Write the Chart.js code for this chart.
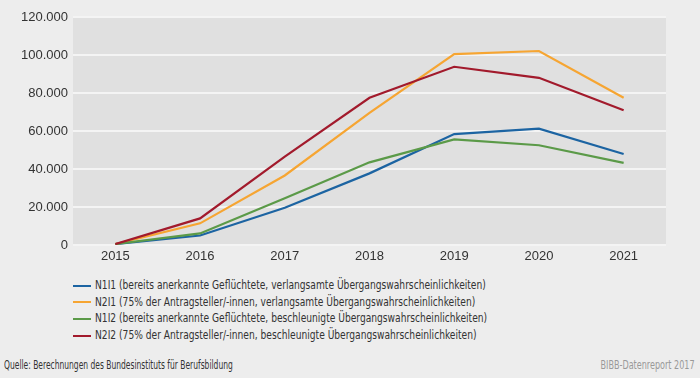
<!DOCTYPE html>
<html>
<head>
<meta charset="utf-8">
<script src="https://cdn.jsdelivr.net/npm/chart.js@4/dist/chart.umd.min.js"></script>
<style>
  html, body { margin: 0; padding: 0; background: #ededed; }
  body { width: 700px; height: 378px; position: relative; overflow: hidden; font-family: "Liberation Sans Narrow", "DejaVu Sans Condensed", sans-serif; color: #333; }
  #wrap { position: absolute; left: 0; top: 0; width: 700px; height: 268px; }
  #legend { position: absolute; left: 73px; top: 277px; }
  .item { height: 16.7px; line-height: 16.7px; font-size: 13px; white-space: nowrap; }
  .item span.sw { display: inline-block; width: 18px; height: 2px; vertical-align: middle; margin-right: 4px; }
  .item span.tx { display: inline-block; transform: scaleX(0.78); transform-origin: left center; }
  #source { position: absolute; left: 4px; top: 358px; font-size: 11.5px; color: #333; transform: scaleX(0.73); transform-origin: left center; white-space: nowrap; }
  #credit { position: absolute; right: 5px; top: 358px; font-size: 11.5px; color: #999; transform: scaleX(0.78); transform-origin: right center; white-space: nowrap; }
</style>
</head>
<body>
<div id="wrap"><canvas id="chart"></canvas></div>
<div id="legend"></div>
<div id="source">Quelle: Berechnungen des Bundesinstituts für Berufsbildung</div>
<div id="credit">BIBB-Datenreport 2017</div>
<script>
// Daten
const years = ['2015', '2016', '2017', '2018', '2019', '2020', '2021'];
const n1i1 = [500, 5000, 19600, 37700, 58400, 61200, 47900];
const n2i1 = [500, 11400, 36600, 69500, 100500, 102100, 77500];
const n1i2 = [500, 6100, 24600, 43500, 55600, 52500, 43200];
const n2i2 = [500, 14000, 46500, 77500, 93800, 88000, 70900];
const yTicks = [0, 20000, 40000, 60000, 80000, 100000, 120000];

const seriesNames = [
    'N1I1 (bereits anerkannte Geflüchtete, verlangsamte Übergangswahrscheinlichkeiten)',
    'N2I1 (75% der Antragsteller/-innen, verlangsamte Übergangswahrscheinlichkeiten)',
    'N1I2 (bereits anerkannte Geflüchtete, beschleunigte Übergangswahrscheinlichkeiten)',
    'N2I2 (75% der Antragsteller/-innen, beschleunigte Übergangswahrscheinlichkeiten)'
];
const colors = ['#1c64a2', '#f6a532', '#5b9a48', '#a21a2c'];

// Hintergrund der Zeichenfläche
const plotBg = {
    id: 'plotBg',
    beforeDraw(chart) {
        const { ctx, chartArea: a } = chart;
        ctx.save();
        ctx.fillStyle = '#e0e0e0';
        ctx.fillRect(a.left, a.top, a.right - a.left, a.bottom - a.top);
        ctx.restore();
    }
};

const fmt = v => String(v).replace(/\B(?=(\d{3})+(?!\d))/g, '.');
const font = { family: '"Liberation Sans Narrow", sans-serif', size: 13 };

const ctx = document.getElementById('chart').getContext('2d');
const chart = new Chart(ctx, {
    type: 'line',
    data: {
        labels: years,
        datasets: [n1i1, n2i1, n1i2, n2i2].map((d, i) => ({
            label: seriesNames[i],
            data: d,
            borderColor: colors[i],
            backgroundColor: colors[i],
            borderWidth: 2.2,
            pointRadius: 0,
            tension: 0
        })).reverse()
    },
    options: {
        responsive: true,
        maintainAspectRatio: false,
        animation: false,
        layout: { padding: { top: 17, right: 34, left: 0, bottom: 0 } },
        plugins: { legend: { display: false }, tooltip: { enabled: false } },
        scales: {
            x: {
                offset: true,
                grid: { display: false, drawTicks: false },
                border: { display: false },
                ticks: { color: '#333', font: font, padding: 4 },
                afterFit(s) { s.height = 23; }
            },
            y: {
                min: 0,
                max: 120000,
                afterBuildTicks(s) { s.ticks = yTicks.map(v => ({ value: v })); },
                grid: { color: '#f4f4f4', lineWidth: 2, drawTicks: false },
                border: { display: false },
                ticks: { color: '#333', font: font, padding: 5, callback: v => fmt(v) },
                afterFit(s) { s.width = 73; }
            }
        }
    },
    plugins: [plotBg]
});

// Legende
const legend = document.getElementById('legend');
seriesNames.forEach((name, i) => {
    const row = document.createElement('div');
    row.className = 'item';
    row.innerHTML = '<span class="sw" style="background:' + colors[i] + '"></span><span class="tx">' + name + '</span>';
    legend.appendChild(row);
});
</script>
</body>
</html>
